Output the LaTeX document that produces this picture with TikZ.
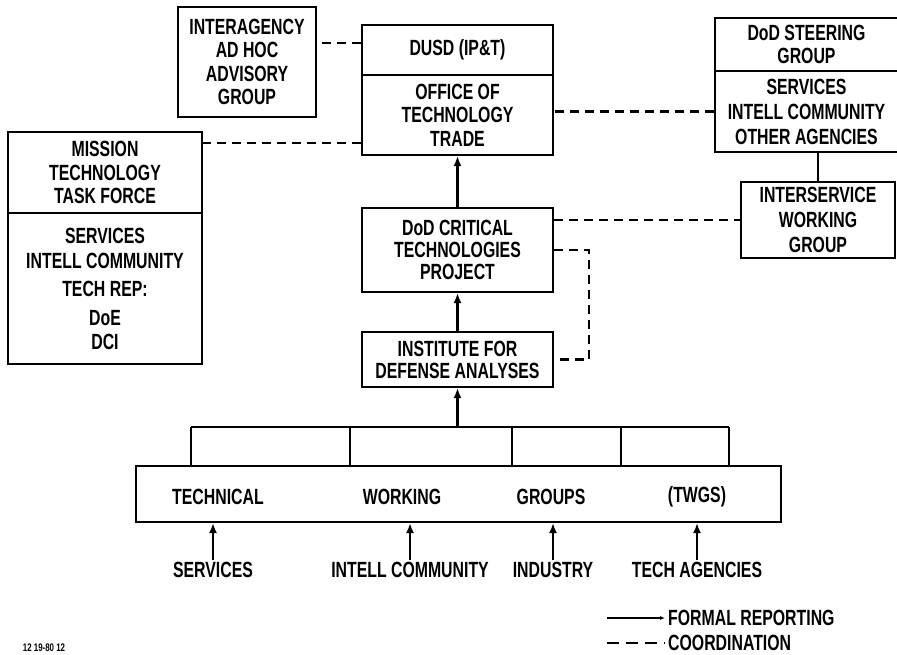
\documentclass[tikz,border=0pt]{standalone}
\usepackage{fontspec}
\setmainfont{Liberation Sans}[FakeStretch=0.72]
\usetikzlibrary{arrows.meta}
\tikzset{
  box/.style={draw,line width=2pt,align=center,inner sep=0pt,
    font=\bfseries\fontsize{22}{23.5}\selectfont},
  lbl/.style={inner sep=2pt,font=\bfseries\fontsize{22}{23.5}\selectfont},
  wire/.style={line width=2.2pt},
  rep/.style={line width=2.2pt,-{Latex[length=10pt,width=8pt]}},
  coord/.style={line width=2.2pt,dash pattern=on 9pt off 6pt}
}

\begin{document}
\begin{tikzpicture}[x=1pt,y=-1pt]
\useasboundingbox (0,0) rectangle (897,654);
%
% upper boxes
\node[box,minimum width=138pt,minimum height=110pt] (adhoc) at (247,62) {INTERAGENCY\\AD HOC\\ADVISORY\\GROUP};
\node[box,minimum width=191pt,minimum height=50pt] (dusd) at (457.5,50) {DUSD (IP\&T)};
\node[box,minimum width=191pt,minimum height=80pt] (ott) at (457.5,115) {OFFICE OF\\TECHNOLOGY\\TRADE};
\node[box,minimum width=183pt,minimum height=53pt] (steer) at (806.5,44.5) {DoD STEERING\\GROUP};
\node[box,minimum width=183pt,minimum height=81pt,font=\bfseries\fontsize{22}{25}\selectfont] (members) at (806.5,111.5) {SERVICES\\INTELL COMMUNITY\\OTHER AGENCIES};
\node[box,minimum width=154pt,minimum height=76pt,font=\bfseries\fontsize{22}{25}\selectfont] (isw) at (818,220) {INTERSERVICE\\WORKING\\GROUP};
%
% task force
\node[box,minimum width=194pt,minimum height=81pt] (mttf) at (105,172.5) {MISSION\\TECHNOLOGY\\TASK FORCE};
\node[box,minimum width=194pt,minimum height=151pt] (reps) at (105,288.5) {SERVICES\\[2pt]INTELL COMMUNITY\\[4pt]TECH REP:\\[6pt]DoE\\DCI};
%
% middle column
\node[box,minimum width=191pt,minimum height=84pt,font=\bfseries\fontsize{22}{22}\selectfont] (dctp) at (457.5,250) {DoD CRITICAL\\TECHNOLOGIES\\PROJECT};
\node[box,minimum width=191pt,minimum height=55pt,font=\bfseries\fontsize{22}{22}\selectfont] (ida) at (457.5,359.5) {INSTITUTE FOR\\DEFENSE ANALYSES};
%
% working groups
\node[box,minimum width=645pt,minimum height=56pt] (twg) at (458.5,494) {};
\node[lbl] (tech) at (218,497) {TECHNICAL};
\node[lbl] (work) at (402,497) {WORKING};
\node[lbl] (grps) at (551,497) {GROUPS};
\node[lbl] (twgs) at (697,497) {(TWGS)};
%
\node[lbl] (svc) at (213,570) {SERVICES};
\node[lbl] (ic) at (410,570) {INTELL COMMUNITY};
\node[lbl] (ind) at (553,570) {INDUSTRY};
\node[lbl] (agn) at (697,570) {TECH AGENCIES};
%
% formal reporting
\draw[rep] (dctp.north) -- (ott.south);
\draw[rep] (ida.north) -- (dctp.south);
\draw[wire] (members.south -| isw.north) -- (isw.north);
%
\coordinate (bus) at (459,427);
\draw[rep] (ida.south |- bus) -- (ida.south);
\foreach \x in {191,350,512,621,729}{
  \coordinate (b\x) at (\x,427);
  \draw[wire] (b\x |- twg.north) -- (b\x);
}
\draw[wire] (b191) -- (b729);
%
\foreach \s in {svc,ic,ind,agn}
  \draw[rep] (\s.north) -- (\s.north |- twg.south);
%
% coordination
\draw[coord] ([yshift=7pt]dusd.west) -- ([yshift=7pt]dusd.west -| adhoc.east);
\draw[coord] ([yshift=-28pt]ott.west) -- ([yshift=-28pt]ott.west -| mttf.east);
\draw[coord] (members.west) -- (ott.east |- members.west);
\draw[coord] (dctp.east |- isw.west) -- (isw.west);
\draw[coord] (dctp.east) -- ++(35,0) |- (ida.east);
%
% legend
\node[lbl,anchor=west,inner sep=0pt] (formal) at (668,618) {FORMAL REPORTING};
\node[lbl,anchor=west,inner sep=0pt] (coordn) at (668,643) {COORDINATION};
\coordinate (lg1) at (607,618);
\coordinate (lg2) at (607,643);
\draw[line width=2.2pt,-{Latex[length=5pt,width=4pt]}] (lg1) -- ([xshift=-3pt]formal.west);
\draw[coord,dash pattern=on 12pt off 7pt] (lg2) -- ([xshift=-3pt]coordn.west);
%
\node[font=\bfseries\fontsize{11}{11}\selectfont] (stamp) at (44,648) {12 19-80 12};
%
\end{tikzpicture}
\end{document}
